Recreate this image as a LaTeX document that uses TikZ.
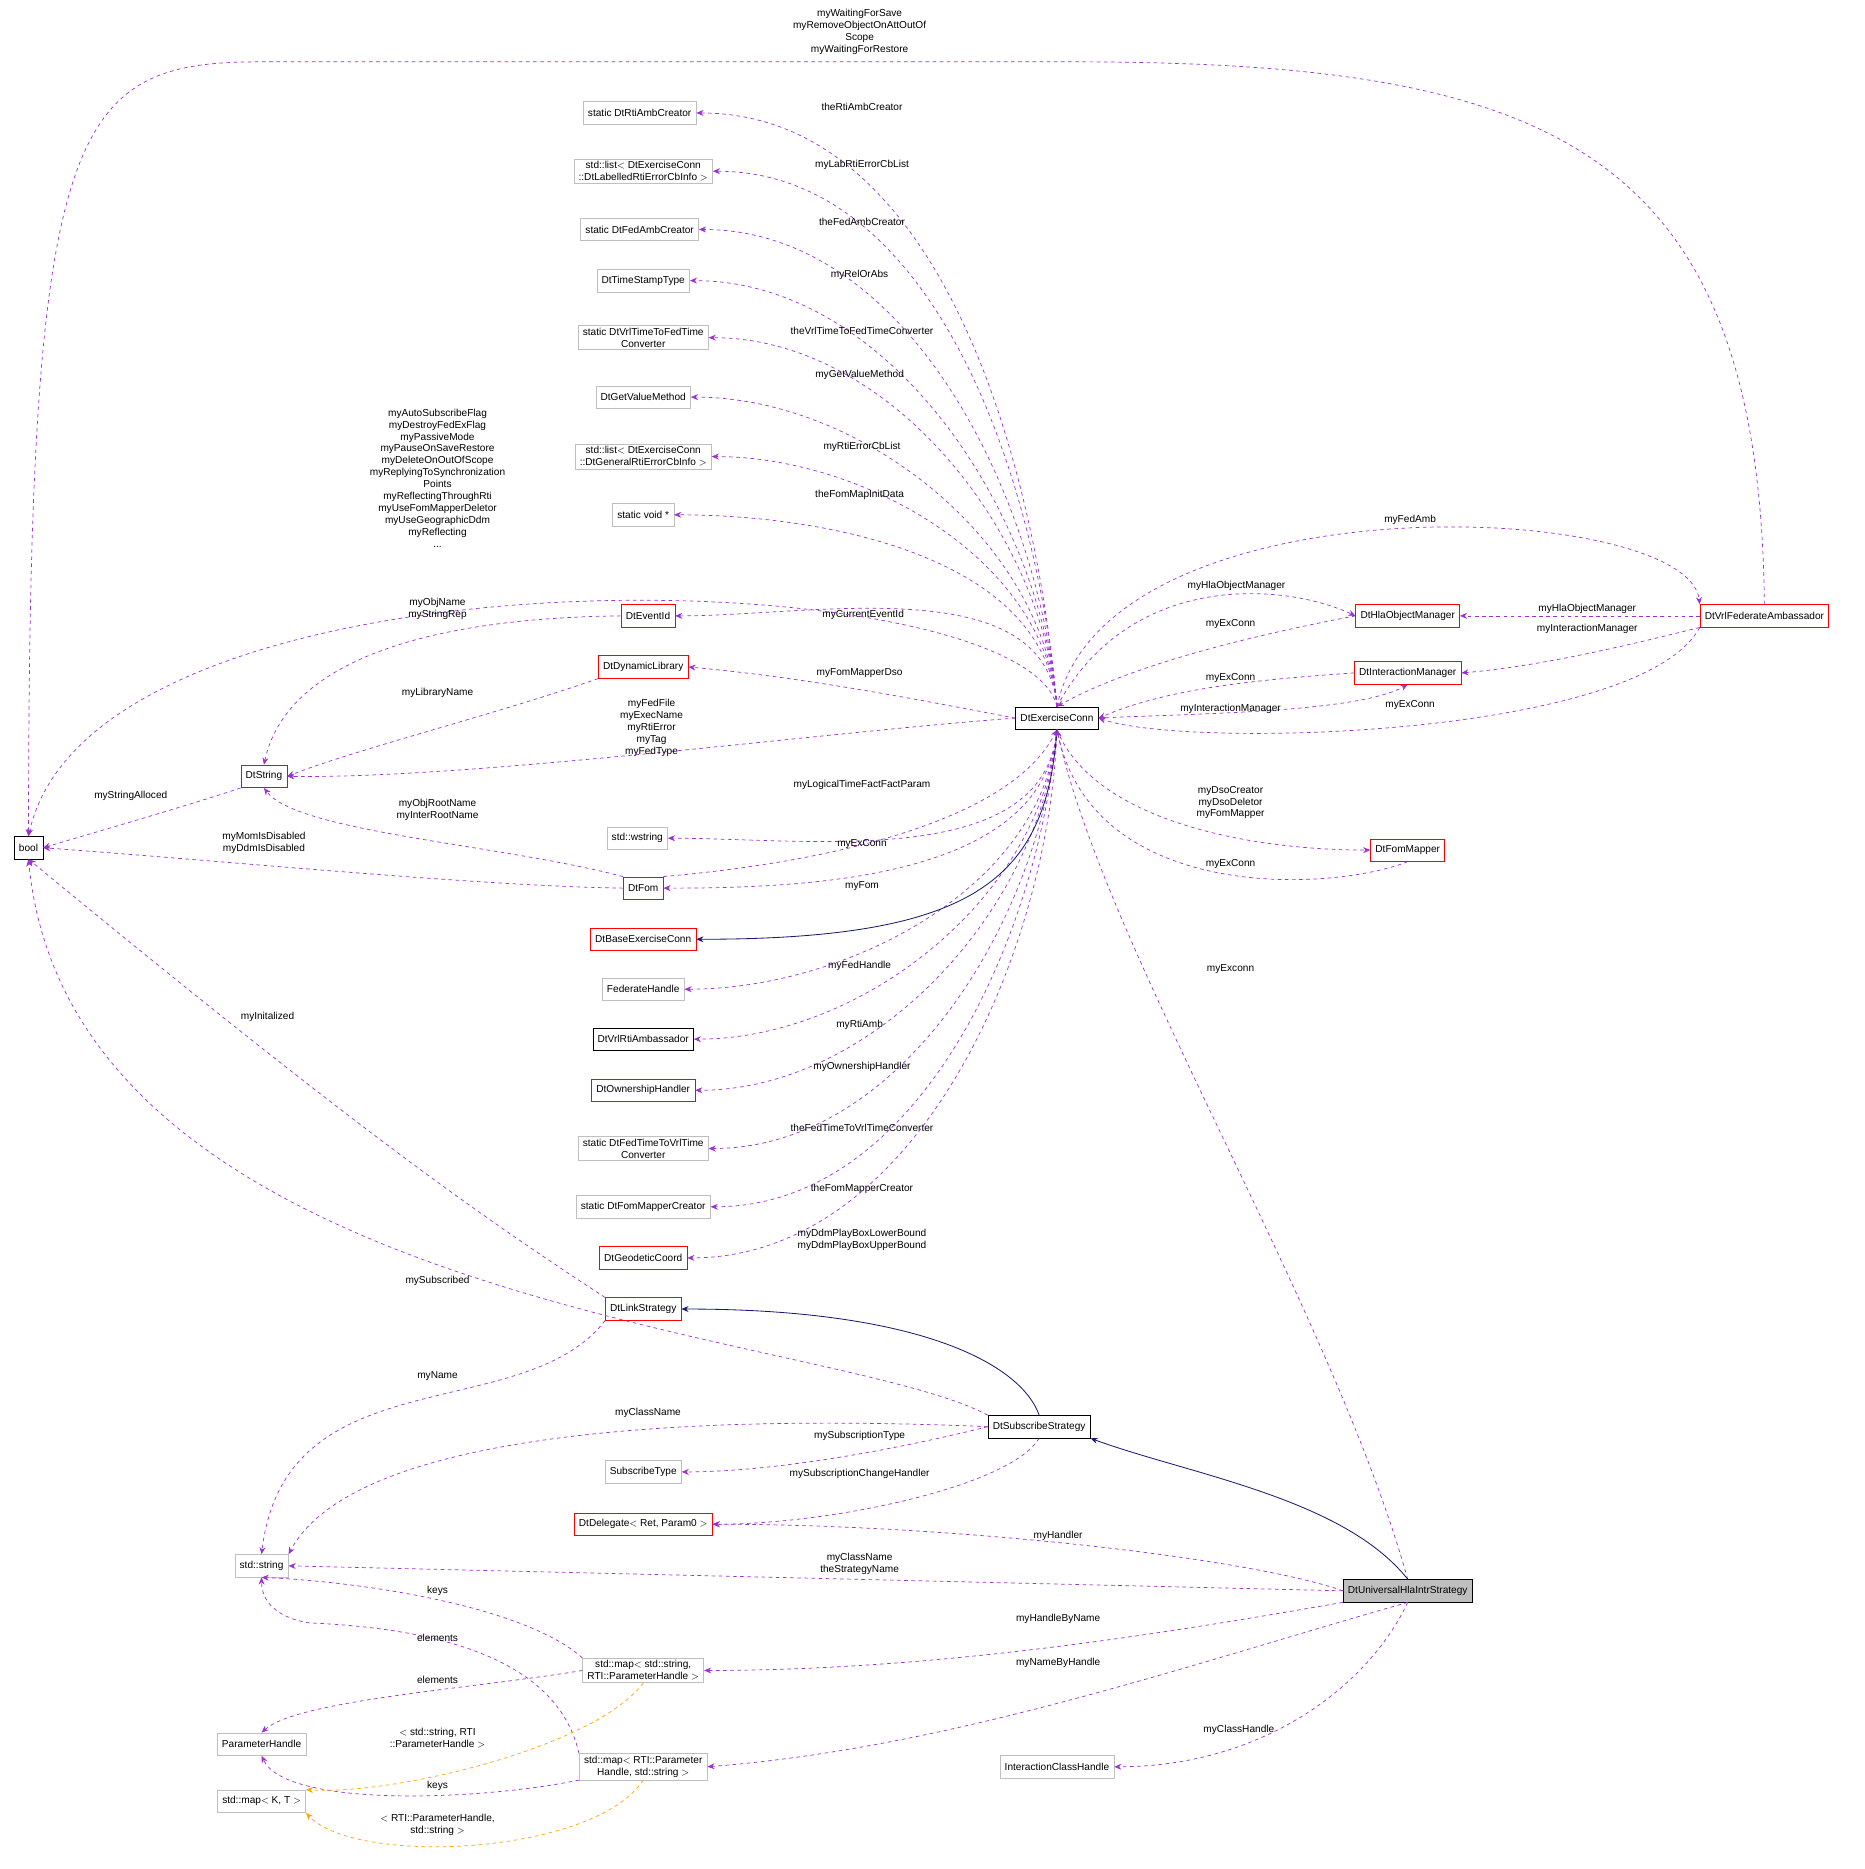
\documentclass[tikz,border=0pt]{standalone}
\usepackage{fontspec}
\setmainfont{Liberation Sans}
\usetikzlibrary{arrows.meta}
\definecolor{dpur}{HTML}{9A32CD}
\definecolor{dnav}{HTML}{191970}
\definecolor{dorg}{HTML}{FFA500}
\definecolor{gbox}{HTML}{BFBFBF}
\begin{document}
\begin{tikzpicture}[x=1pt,y=-1pt,
  every node/.style={font=\fontsize{8.5}{10}\selectfont,align=center,inner sep=2pt},
  box/.style={draw,minimum height=19,inner xsep=4pt,line width=0.5pt},
  bb/.style={box,draw=black},
  rb/.style={box,draw=red},
  gb/.style={box,draw=gbox},
  dep/.style={draw=dpur,dashed,-{Stealth[length=6pt,width=5pt]},line width=0.6pt},
  inh/.style={draw=dnav,-{Stealth[length=6pt,width=5pt]},line width=0.7pt},
  tmp/.style={draw=dorg,dashed,-{Stealth[length=6pt,width=5pt]},line width=0.6pt},
  lb/.style={inner sep=0pt}]
\useasboundingbox (0,0) rectangle (1568,1572);
% nodes
\node[bb] (bool) at (24,713) {bool};
\node[rb] (str) at (222,653) {DtString};
\node[rb] (evt) at (545,518) {DtEventId};
\node[rb] (dyn) at (541,561) {DtDynamicLibrary};
\node[gb] (rac) at (538,95) {static DtRtiAmbCreator};
\node[gb] (l1) at (541,144) {std::list$<$ DtExerciseConn\\::DtLabelledRtiErrorCbInfo $>$};
\node[gb] (fac) at (538,193) {static DtFedAmbCreator};
\node[gb] (tst) at (541,236) {DtTimeStampType};
\node[gb] (v2f) at (541,284) {static DtVrlTimeToFedTime\\Converter};
\node[gb] (gvm) at (541,334) {DtGetValueMethod};
\node[gb] (l2) at (541,384) {std::list$<$ DtExerciseConn\\::DtGeneralRtiErrorCbInfo $>$};
\node[gb] (sv) at (541,433) {static void *};
\node[gb] (wstr) at (536,705) {std::wstring};
\node[rb] (fom) at (541,747) {DtFom};
\node[rb] (bex) at (541,790) {DtBaseExerciseConn};
\node[gb] (fh) at (541,832) {FederateHandle};
\node[bb] (vra) at (541,874) {DtVrlRtiAmbassador};
\node[rb] (own) at (541,917) {DtOwnershipHandler};
\node[gb] (f2v) at (541,966) {static DtFedTimeToVrlTime\\Converter};
\node[gb] (fmc) at (541,1015) {static DtFomMapperCreator};
\node[rb] (geo) at (541,1058) {DtGeodeticCoord};
\node[rb] (lnk) at (541,1101) {DtLinkStrategy};
\node[bb] (ex) at (889,604) {DtExerciseConn};
\node[rb] (hom) at (1184,518) {DtHlaObjectManager};
\node[rb] (im) at (1184,566) {DtInteractionManager};
\node[rb] (vfa) at (1484,518) {DtVrlFederateAmbassador};
\node[rb] (fm) at (1184,715) {DtFomMapper};
\node[bb] (sub) at (874,1200) {DtSubscribeStrategy};
\node[gb] (st) at (541,1238) {SubscribeType};
\node[rb] (del) at (541,1282) {DtDelegate$<$ Ret, Param0 $>$};
\node[gb] (sstr) at (220,1317) {std::string};
\node[bb,fill=gbox] (uni) at (1184,1338) {DtUniversalHlaIntrStrategy};
\node[gb] (m1) at (541,1405) {std::map$<$ std::string,\\RTI::ParameterHandle $>$};
\node[gb] (ph) at (220,1467) {ParameterHandle};
\node[gb] (m2) at (541,1486) {std::map$<$ RTI::Parameter\\Handle, std::string $>$};
\node[gb] (mkt) at (220,1515) {std::map$<$ K, T $>$};
\node[gb] (ich) at (889,1486) {InteractionClassHandle};
% top long edge
\draw[dep] (vfa.north) .. controls (1480,120) and (1300,52) .. (900,52) -- (220,52) .. controls (60,52) and (24,100) .. (bool.north);
\node[lb] at (723,27) {myWaitingForSave\\myRemoveObjectOnAttOutOf\\Scope\\myWaitingForRestore};
% ExConn upward fan
\foreach \t/\lx/\ly/\txt in {rac/725/90/theRtiAmbCreator, l1/725/139/myLabRtiErrorCbList, fac/725/187/theFedAmbCreator, tst/723/231/myRelOrAbs, v2f/725/278/theVrlTimeToFedTimeConverter, gvm/723/315/myGetValueMethod, l2/725/376/myRtiErrorCbList, sv/723/416/theFomMapInitData, evt/726/517/myCurrentEventId}
{ \draw[dep] (ex.north) to[out=95,in=0,looseness=0.9] (\t.east); \node[lb] at (\lx,\ly) {\txt}; }
\draw[dep] (ex.north) .. controls (860,470) and (80,450) .. (bool.north);
\node[lb] at (368,402) {myAutoSubscribeFlag\\myDestroyFedExFlag\\myPassiveMode\\myPauseOnSaveRestore\\myDeleteOnOutOfScope\\myReplyingToSynchronization\\Points\\myReflectingThroughRti\\myUseFomMapperDeletor\\myUseGeographicDdm\\myReflecting\\...};
\draw[dep] (ex.west) .. controls (780,590) and (680,570) .. (dyn.east); \node[lb] at (723,566) {myFomMapperDso};
\draw[dep] (ex.west) .. controls (700,615) and (400,655) .. (str.east);
\node[lb] at (548,612) {myFedFile\\myExecName\\myRtiError\\myTag\\myFedType};
% ExConn downward fan
\foreach \t/\lx/\ly/\txt in {wstr/725/660/myLogicalTimeFactFactParam, fom/725/745/myFom, fh/723/812/myFedHandle, vra/723/862/myRtiAmb, own/725/897/myOwnershipHandler, f2v/725/949/theFedTimeToVrlTimeConverter, fmc/725/1000/theFomMapperCreator}
{ \draw[dep] (ex.south) to[out=-95,in=0,looseness=0.9] (\t.east); \node[lb] at (\lx,\ly) {\txt}; }
\draw[dep] (ex.south) to[out=-92,in=0,looseness=0.9] (geo.east);
\node[lb] at (725,1043) {myDdmPlayBoxLowerBound\\myDdmPlayBoxUpperBound};
\draw[dep] (fom.north east) .. controls (700,725) and (850,690) .. (ex.south); \node[lb] at (725,710) {myExConn};
\draw[inh] (ex.south) .. controls (880,740) and (820,790) .. (bex.east);
% right side
\draw[dep] (ex.north) .. controls (950,480) and (1080,490) .. (hom.west); \node[lb] at (1040,493) {myHlaObjectManager};
\draw[dep] (hom.west) .. controls (1050,535) and (950,560) .. (ex.north); \node[lb] at (1035,525) {myExConn};
\draw[dep] (im.west) .. controls (1050,572) and (980,580) .. (ex.east); \node[lb] at (1035,570) {myExConn};
\draw[dep] (ex.east) .. controls (1000,600) and (1140,600) .. (im.south); \node[lb] at (1035,596) {myInteractionManager};
\draw[dep] (ex.north) .. controls (930,400) and (1420,420) .. (vfa.north west); \node[lb] at (1186,437) {myFedAmb};
\draw[dep] (vfa.south west) .. controls (1380,620) and (1000,630) .. (ex.east); \node[lb] at (1186,593) {myExConn};
\draw[dep] (vfa.west) -- (hom.east); \node[lb] at (1335,512) {myHlaObjectManager};
\draw[dep] (vfa.south west) .. controls (1380,540) and (1300,560) .. (im.east); \node[lb] at (1335,529) {myInteractionManager};
\draw[dep] (ex.south) .. controls (920,690) and (1050,715) .. (fm.west); \node[lb] at (1035,675) {myDsoCreator\\myDsoDeletor\\myFomMapper};
\draw[dep] (fm.south) .. controls (1120,750) and (920,760) .. (ex.south); \node[lb] at (1035,727) {myExConn};
\draw[dep] (uni.north) .. controls (1120,1100) and (930,800) .. (ex.south); \node[lb] at (1035,815) {myExconn};
% left side
\draw[dep] (evt.west) .. controls (350,520) and (240,560) .. (str.north); \node[lb] at (368,512) {myObjName\\myStringRep};
\draw[dep] (dyn.south west) .. controls (420,600) and (300,630) .. (str.east); \node[lb] at (368,583) {myLibraryName};
\draw[dep] (str.south west) .. controls (150,680) and (80,700) .. (bool.east); \node[lb] at (110,669) {myStringAlloced};
\draw[dep] (fom.north west) .. controls (420,710) and (250,700) .. (str.south); \node[lb] at (368,681) {myObjRootName\\myInterRootName};
\draw[dep] (fom.west) .. controls (400,745) and (200,725) .. (bool.east); \node[lb] at (222,709) {myMomIsDisabled\\myDdmIsDisabled};
\draw[dep] (lnk.north west) .. controls (400,1020) and (300,950) .. (bool.south); \node[lb] at (225,855) {myInitalized};
\draw[dep] (sub.north west) .. controls (700,1120) and (60,1100) .. (bool.south); \node[lb] at (368,1077) {mySubscribed};
\draw[dep] (lnk.south west) .. controls (440,1200) and (240,1140) .. (sstr.north); \node[lb] at (368,1157) {myName};
\draw[inh] (sub.north) .. controls (860,1150) and (780,1101) .. (lnk.east);
\draw[dep] (sub.west) .. controls (600,1190) and (300,1200) .. (sstr.north east); \node[lb] at (545,1188) {myClassName};
\draw[dep] (sub.west) .. controls (750,1220) and (650,1238) .. (st.east); \node[lb] at (723,1208) {mySubscriptionType};
\draw[dep] (sub.south) .. controls (850,1250) and (700,1282) .. (del.east); \node[lb] at (723,1240) {mySubscriptionChangeHandler};
\draw[inh] (uni.north) .. controls (1130,1260) and (1000,1240) .. (sub.south east);
\draw[dep] (uni.west) .. controls (1050,1310) and (800,1282) .. (del.east); \node[lb] at (890,1292) {myHandler};
\draw[dep] (uni.west) -- (sstr.east); \node[lb] at (723,1315) {myClassName\\theStrategyName};
\draw[dep] (uni.south west) .. controls (1000,1370) and (800,1405) .. (m1.east); \node[lb] at (890,1362) {myHandleByName};
\draw[dep] (uni.south) .. controls (1000,1400) and (800,1470) .. (m2.east); \node[lb] at (890,1399) {myNameByHandle};
\draw[dep] (uni.south) .. controls (1150,1420) and (1060,1486) .. (ich.east); \node[lb] at (1042,1455) {myClassHandle};
\draw[dep] (m1.north west) .. controls (440,1350) and (300,1330) .. (sstr.south); \node[lb] at (368,1338) {keys};
\draw[dep] (m1.west) .. controls (400,1420) and (250,1430) .. (ph.north); \node[lb] at (368,1413) {elements};
\draw[dep] (m2.north west) .. controls (470,1400) and (380,1370) .. (260,1365) .. controls (230,1360) and (220,1345) .. (sstr.south); \node[lb] at (368,1378) {elements};
\draw[dep] (m2.south west) .. controls (400,1515) and (240,1520) .. (ph.south); \node[lb] at (368,1502) {keys};
\draw[tmp] (m1.south) .. controls (500,1470) and (330,1510) .. (mkt.north east); \node[lb] at (368,1462) {$<$ std::string, RTI\\::ParameterHandle $>$};
\draw[tmp] (m2.south) .. controls (500,1560) and (300,1570) .. (mkt.south east); \node[lb] at (368,1535) {$<$ RTI::ParameterHandle,\\std::string $>$};
\end{tikzpicture}
\end{document}
